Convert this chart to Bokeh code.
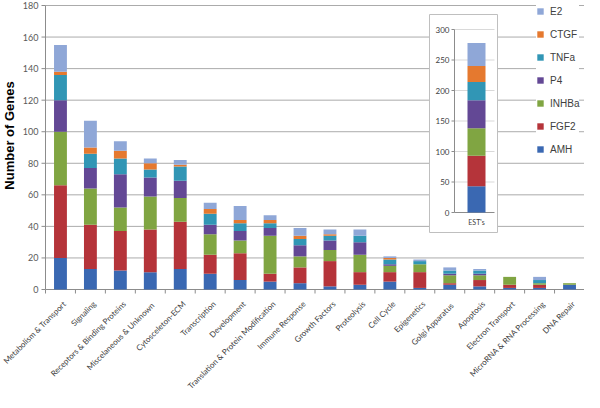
import math
from bokeh.plotting import figure
from bokeh.models import Range1d, ColumnDataSource, Legend, LegendItem
from bokeh.embed import file_html
from bokeh.resources import INLINE
from bokeh.core.properties import value

# ---------------- data ----------------
categories = ["Metabolism & Transport", "Signaling", "Receptors & Binding Proteins",
              "Miscelaneous  & Unknown", "Cytosceleton-ECM", "Transcription", "Development",
              "Translation & Protein Modification", "Immune Response", "Growth Factors",
              "Proteolysis", "Cell Cycle", "Epigenetics", "Golgi  Apparatus", "Apoptosis",
              "Electron Transport", "MicroRNA & RNA Processing", "DNA Repair"]
series = ["AMH", "FGF2", "INHBa", "P4", "TNFa", "CTGF", "E2"]
amh   = [20, 13, 12, 11, 13, 10, 6, 5, 4, 2, 3, 5, 1, 3, 2, 1, 1, 3]
fgf2  = [46, 28, 25, 27, 30, 12, 17, 5, 10, 16, 8, 6, 10, 1, 4, 2, 2, 0]
inhba = [34, 23, 15, 21, 15, 13, 8, 24, 7, 7, 11, 4, 5, 5, 3, 5, 1, 1]
p4    = [20, 13, 21, 12, 11, 6, 6, 5, 7, 6, 8, 1, 0, 1, 1, 0, 0, 0]
tnfa  = [16, 9, 10, 5, 9, 7, 5, 3, 4, 3, 4, 3, 2, 2, 2, 0, 2, 0]
ctgf  = [2, 4, 5, 4, 1, 3, 2, 2, 2, 1, 0, 1, 0, 0, 0, 0, 0, 0]
e2    = [17, 17, 6, 3, 3, 4, 9, 3, 5, 3, 4, 1, 1, 2, 1, 0, 2, 0]
y_ticks = [0, 20, 40, 60, 80, 100, 120, 140, 160, 180]
y_title = "Number of Genes"

est_label = ["EST's"]
est_values = [43, 50, 45, 46, 30, 26, 38]   # AMH..E2
est_ticks = [0, 50, 100, 150, 200, 250, 300]

colors = ["#3A68B2", "#B5343A", "#80A542", "#634895", "#3196B5", "#E5792F", "#8FA7D7"]

# ---------------- layout constants (px in figure) ----------------
W, H = 584, 392
AXIS_X_PX = 45                      # px of the y axis (left edge of category area)
ZERO_PX = 289                       # px (from top) of y = 0
TOP_PX = 5                          # px (from top) of the highest tick
AXIS_GRAY = "#8C8C8C"
GRID_GRAY = "#ABABAB"
LABEL_FONT = value("Lato")

n = len(categories)
ppx = (W - AXIS_X_PX) / n                       # px per category
ppu_main = (ZERO_PX - TOP_PX) / y_ticks[-1]     # px per gene

p = figure(width=W, height=H,
           x_range=Range1d(-AXIS_X_PX / ppx, n),
           y_range=Range1d(-(H - ZERO_PX) / ppu_main, y_ticks[-1] + TOP_PX / ppu_main),
           output_backend="svg", toolbar_location=None,
           x_axis_location=None, y_axis_location=None,
           min_border_left=0, min_border_right=0, min_border_top=0, min_border_bottom=0)
p.outline_line_color = None
p.background_fill_color = "white"
p.grid.visible = False

# ---- gridlines, axes (drawn in data space) ----
gl_main = y_ticks[1:]
p.segment(x0=[0] * len(gl_main), x1=[n] * len(gl_main), y0=gl_main, y1=gl_main,
          line_color=GRID_GRAY, line_width=1)
tick_x = 4 / ppx
tick_y = 4 / ppu_main
p.segment(x0=[0], x1=[0], y0=[y_ticks[0]], y1=[y_ticks[-1]], line_color=AXIS_GRAY, line_width=1)
p.segment(x0=[-tick_x] * len(y_ticks), x1=[0] * len(y_ticks), y0=y_ticks, y1=y_ticks,
          line_color=AXIS_GRAY, line_width=1)
bounds = [i for i in range(n + 1)]
p.segment(x0=[bounds[0]], x1=[bounds[-1]], y0=[0], y1=[0], line_color=AXIS_GRAY, line_width=1)
p.segment(x0=bounds, x1=bounds, y0=[0] * len(bounds), y1=[-tick_y] * len(bounds),
          line_color=AXIS_GRAY, line_width=1)

# y tick labels and title
p.text(x=[0] * len(y_ticks), y=y_ticks, text=[str(t) for t in y_ticks],
       x_offset=-7, text_align="right", text_baseline="middle",
       text_font=LABEL_FONT, text_font_size="9px", text_color="#595959")
p.text(x=[-AXIS_X_PX / ppx], y=[y_ticks[-1] / 2], text=[y_title], angle=math.pi / 2,
       x_offset=9, y_offset=-12, text_align="center", text_baseline="middle",
       text_font=value("Liberation Sans"), text_font_style="bold",
       text_font_size="13px", text_color="black")

# ---- stacked bars ----
xpos = [i + 0.5 for i, _ in enumerate(categories)]
src = ColumnDataSource(dict(x=xpos, cat=categories, AMH=amh, FGF2=fgf2, INHBa=inhba,
                            P4=p4, TNFa=tnfa, CTGF=ctgf, E2=e2, y=[0] * n))
rs = p.vbar_stack(series, x="x", width=0.43, fill_color=colors, line_color=None, source=src)

# category labels, rotated 45 degrees
p.text(x="x", y="y", text="cat", source=src, angle=math.pi / 4,
       text_align="right", text_baseline="middle", x_offset=4, y_offset=13,
       text_font=LABEL_FONT, text_font_size="8px", text_color="#404040")

# ---------------- inset (EST's) ----------------
BAR_CX = 476               # px, inset bar centre
Y0_PX, Y300_PX = 212, 29   # px of 0 and 300 on inset axis
ppu = (Y0_PX - Y300_PX) / est_ticks[-1]
p.extra_x_ranges = {"estx": Range1d(-BAR_CX, W - BAR_CX)}
p.extra_y_ranges = {"esty": Range1d(-(H - Y0_PX) / ppu, est_ticks[-1] + Y300_PX / ppu)}

AX_X, RIGHT_X = -22, 18
BOX_L, BOX_R = -47, 21
box_top = est_ticks[-1] + (Y300_PX - 14) / ppu
box_bot = -(232 - Y0_PX) / ppu
p.quad(left=[BOX_L], right=[BOX_R], top=[box_top], bottom=[box_bot],
       fill_color="white", line_color="#BFBFBF", line_width=1,
       x_range_name="estx", y_range_name="esty")
gl = est_ticks[1:]
p.segment(x0=[AX_X] * len(gl), x1=[RIGHT_X] * len(gl), y0=gl, y1=gl,
          line_color="#D9D9D9", line_width=1, x_range_name="estx", y_range_name="esty")
p.segment(x0=[AX_X - 3] * len(est_ticks), x1=[AX_X] * len(est_ticks), y0=est_ticks, y1=est_ticks,
          line_color=AXIS_GRAY, line_width=1, x_range_name="estx", y_range_name="esty")
p.segment(x0=[AX_X, AX_X], x1=[AX_X, RIGHT_X], y0=[0, 0], y1=[est_ticks[-1], 0],
          line_color=AXIS_GRAY, line_width=1, x_range_name="estx", y_range_name="esty")

est_src = ColumnDataSource(dict(x=[i for i, _ in enumerate(est_label)],
                                **{s: [v] for s, v in zip(series, est_values)}))
p.vbar_stack(series, x="x", width=18, fill_color=colors, line_color=None, source=est_src,
             x_range_name="estx", y_range_name="esty")
p.text(x=[AX_X - 5] * len(est_ticks), y=est_ticks, text=[str(t) for t in est_ticks],
       text_align="right", text_baseline="middle", text_font_size="8px",
       text_font=LABEL_FONT, text_color="#404040",
       x_range_name="estx", y_range_name="esty")
p.text(x=[i for i, _ in enumerate(est_label)], y=[0] * len(est_label), text=est_label,
       text_align="center", text_baseline="top", y_offset=5, text_font_size="7px",
       text_font=LABEL_FONT, text_color="#404040",
       x_range_name="estx", y_range_name="esty")

# ---------------- legend ----------------
items = [LegendItem(label=s, renderers=[r]) for s, r in reversed(list(zip(series, rs)))]
PAD, LH, SP = 2, 16, 7
leg_h = len(items) * LH + (len(items) - 1) * SP + 2 * PAD
legend = Legend(items=items, location=(538 - PAD, H - leg_h + 1),
                background_fill_color="white", background_fill_alpha=1.0,
                border_line_color=None, padding=PAD, margin=0, spacing=SP,
                glyph_width=8, glyph_height=8, label_height=LH, label_standoff=6,
                label_text_font="Liberation Sans", label_text_font_size="10px",
                label_text_color="#404040")
p.add_layout(legend)

open("out.html", "w").write(file_html(p, INLINE))
